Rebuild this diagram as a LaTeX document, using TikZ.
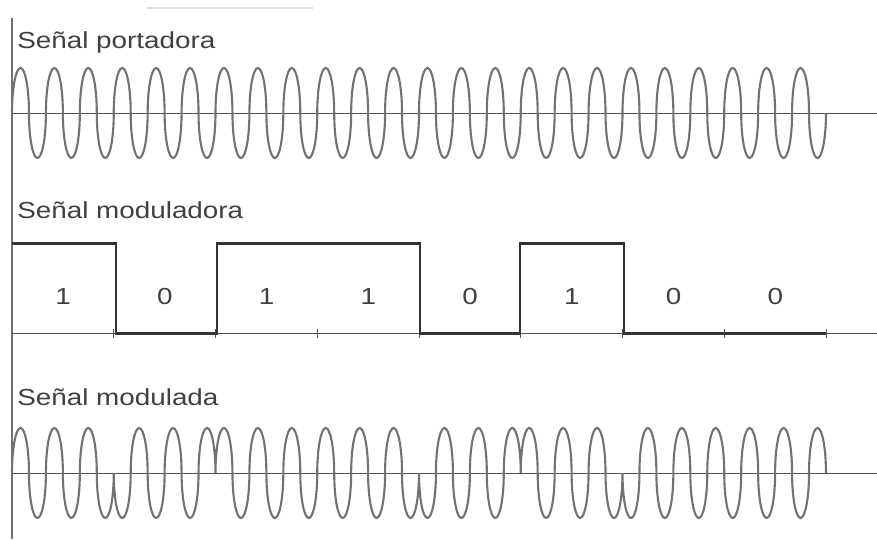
\documentclass[tikz,border=0pt]{standalone}
\usepackage{fontspec}
\newfontfamily\rotulofont[FakeStretch=1.2]{Liberation Sans}
\usetikzlibrary{positioning}
\definecolor{grafito}{HTML}{333333}
\definecolor{ceniza}{HTML}{727272}
\definecolor{tinta}{HTML}{404040}

\begin{document}
\begin{tikzpicture}[x=0.02cm,y=-0.02cm,
    onda/.style={ceniza,line width=1.2pt},
    semi/.style={x radius=8.479,y radius=45},
    eje/.style={grafito!85,line width=0.55pt},
    pulso/.style={grafito,line width=1.7pt,line join=miter},
    rotulo/.style={tinta,inner sep=0pt,anchor=base west,font=\rotulofont\fontsize{13.2}{15}\selectfont},
    digito/.style={tinta,inner sep=0pt,anchor=base,font=\rotulofont\fontsize{13.2}{15}\selectfont}]
        \useasboundingbox (0,0) rectangle (877,539);
        % borde superior y eje vertical
        \draw[gray!25,line width=1.2pt] (147,8) -- (313,8);
        \draw[ceniza,line width=0.8pt] (12,18) -- (12,539);
        % portadora
        \node[rotulo] (tport) at (17,48) {Señal portadora};
        \draw[eje] (12,113) -- (877,113);
        \draw[onda] (12,113) \foreach \k in {1,...,24}{
          arc[start angle=180,end angle=360,semi] arc[start angle=180,end angle=0,semi]};
        % moduladora
        \node[rotulo] (tmodr) at (17,218) {Señal moduladora};
        \draw[eje] (12,333) -- (877,333);
        \foreach \i in {1,...,8}{\draw[eje] (12+\i*101.75,329) -- (12+\i*101.75,338);}
        \draw[pulso] (12,243) -- (116,243) -- (116,333) -- (217,333) -- (217,243) -- (420,243)
          -- (420,333) -- (520,333) -- (520,243) -- (624,243) -- (624,333) -- (826,333);
        \foreach \b [count=\i from 0] in {1,0,1,1,0,1,0,0}
          \node[digito] (d\i) at (63+\i*101.75,304) {\b};
        % modulada (fase invertida en los ceros)
        \node[rotulo] (tmodd) at (17,405) {Señal modulada};
        \draw[eje] (12,473) -- (877,473);
        \draw[onda] (12,473) \foreach \ea/\eb in {360/0,0/360,360/0,360/0,0/360,360/0,0/360,0/360}{
          \foreach \j in {1,2,3}{
            arc[start angle=180,end angle=\ea,semi] arc[start angle=180,end angle=\eb,semi]}};
\end{tikzpicture}
\end{document}
